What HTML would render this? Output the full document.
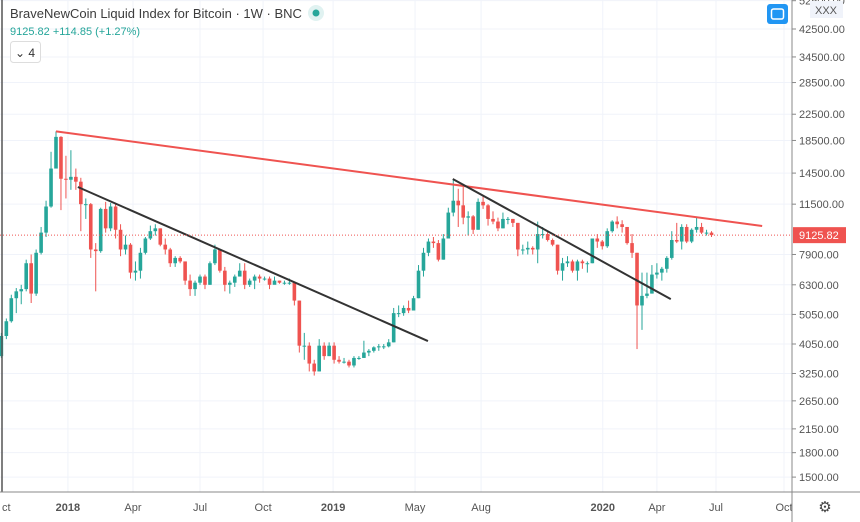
<!DOCTYPE html>
<html><head><meta charset="utf-8"><style>
html,body{margin:0;padding:0;background:#fff;width:860px;height:522px;overflow:hidden;font-family:"Liberation Sans",sans-serif}
svg{position:absolute;left:0;top:0}
</style></head><body>
<svg id="chart" width="860" height="522">
<g id="grid"></g>
<g id="candles"></g>
<g id="lines"></g>
<g id="yaxis"></g>
<g id="xaxis"></g>
<line x1="2" y1="0" x2="2" y2="492" stroke="#555" stroke-width="1.5"/>
<line x1="792" y1="0" x2="792" y2="522" stroke="#888" stroke-width="1"/>
<line x1="0" y1="492" x2="860" y2="492" stroke="#888" stroke-width="1"/>
<text x="10" y="18" font-size="13" fill="#3c3c3c">BraveNewCoin Liquid Index for Bitcoin · 1W · BNC</text>
<circle cx="316" cy="13" r="8" fill="#e0f2f1"/>
<circle cx="316" cy="13" r="3.5" fill="#26a69a"/>
<text x="10" y="35" font-size="11" fill="#26a69a">9125.82 +114.85 (+1.27%)</text>
<rect x="10.5" y="41.5" width="30" height="21" rx="3" fill="#fff" stroke="#ddd"/>
<text x="15" y="57" font-size="12" fill="#333">⌄ 4</text>
<rect x="767" y="4" width="21" height="20" rx="3" fill="#2196f3"/>
<rect x="771.5" y="9" width="12" height="10" rx="2" fill="none" stroke="#fff" stroke-width="1.5"/>
<rect x="810" y="1" width="33" height="17" fill="#f0f3fa"/>
<text x="826" y="14" font-size="11" fill="#555" text-anchor="middle">XXX</text>
<text x="825" y="512" font-size="15" fill="#444" text-anchor="middle">⚙</text>
</svg>
<script>
const openPrice0 = 3700;
const closes=[4300,4800,5700,6000,6100,7400,5900,8000,9300,11300,15000,19000,13900,13800,14100,13600,11500,11500,8200,8100,11100,9600,11300,9500,8200,8500,6900,7000,8000,8900,9400,9600,8500,8200,7400,7700,7500,6500,6100,6400,6700,6300,7400,8200,7000,6300,6400,6700,7000,6300,6500,6700,6600,6600,6300,6500,6400,6400,6400,5600,4000,4000,3500,3300,4000,3700,4000,3600,3550,3550,3450,3650,3650,3800,3850,3950,3980,3980,4100,5100,5100,5300,5200,5700,7000,8000,8700,8600,7600,8900,10800,11800,11400,10400,10500,9500,11700,11400,10300,10100,9600,10300,10300,10000,8200,8200,8300,8200,9200,9200,8800,8500,7000,7400,7500,7000,7500,7400,7400,8900,8700,8400,9400,10100,9900,9700,8600,8000,5400,5800,5900,6800,6900,7100,7700,8800,8700,9700,8700,9500,9700,9300,9300,9125];
const highs=[4400,4900,5850,6150,6300,7600,7900,8200,9700,11800,17000,19800,19100,16500,17200,15000,14000,12000,11600,8600,11200,11700,11600,11500,9900,9100,8600,7500,8300,9000,9800,9900,9600,8900,8300,7800,7800,7500,6800,6500,6800,6800,7500,8500,8200,7200,6500,6800,7400,7400,6600,6800,6800,6700,6700,6700,6500,6500,6600,6400,5600,4400,4100,3600,4200,4100,4100,4100,3700,3650,3600,3700,3700,4150,3900,3980,4050,4050,4200,5300,5400,5400,5600,5800,7300,8300,8900,9000,8800,9200,11200,13800,12900,13100,10900,10600,12000,12300,11500,10900,10400,10800,10450,10300,10000,8500,8700,8400,10100,9700,9400,8900,8500,7700,7800,7600,7600,7600,7500,8900,9200,8800,9600,10200,10500,10200,9700,9200,8000,6900,6900,7300,7400,7200,7800,9400,10000,9900,9900,9600,10400,10000,9500,9400];
const lows=[3650,4200,4750,5100,5450,6000,5500,5800,7900,9000,11200,15000,11000,12000,12800,12800,9400,10300,7700,6000,8000,9300,9400,8900,7800,7900,6600,6500,6600,7900,8800,9100,8400,7900,7200,7200,7400,6300,5800,5800,6300,6100,6300,7300,6900,6000,5900,6200,6700,6100,6200,6100,6400,6500,6100,6400,6350,6300,6300,5400,3800,3600,3300,3200,3300,3600,3700,3500,3500,3500,3400,3400,3600,3650,3700,3800,3850,3900,3950,4100,4950,5000,5100,5200,5700,6700,7800,8300,7500,7600,8900,10500,9700,9900,9100,9200,9500,11100,9800,9900,9400,9600,9900,9700,7800,7900,7900,7900,7400,8900,8700,8400,6800,6500,7200,6900,6500,7100,6900,7400,8300,8200,8300,9300,9600,9300,8500,7700,3900,4500,5700,5900,6600,6500,6900,7600,8600,8200,8600,8600,9300,9200,9100,9000];
const firstWeekIndex=-11;
const priceTicks=[52500,42500,34500,28500,22500,18500,14500,11500,9125.82,7900,6300,5050,4050,3250,2650,2150,1800,1500];
const timeLabels=["ct","2018","Apr","Jul","Oct","2019","May","Aug","2020","Apr","Jul","Oct"];
const timeWeeks=[-12.3,2.4,15.5,29.0,41.7,55.8,72.3,85.6,110.1,121.0,132.9,146.6];
const boldLabels=["2018","2019","2020"];
const redLineStart=[0,19800], redLineEnd=[142.2,9770];
const blackLine1Start=[4.4,13070], blackLine1End=[74.9,4140];
const blackLine2Start=[79.9,13880], blackLine2End=[123.8,5660];
const lastPrice=9125.82;

const NS="http://www.w3.org/2000/svg";
function xOf(w){return 56+w*4.966;}
function yOf(p){return 29+(Math.log(42500)-Math.log(p))*134;}
function mk(tag,attrs,parent){const e=document.createElementNS(NS,tag);for(const k in attrs)e.setAttribute(k,attrs[k]);parent.appendChild(e);return e;}
const grid=document.getElementById('grid'),cg=document.getElementById('candles'),lg=document.getElementById('lines'),ya=document.getElementById('yaxis'),xa=document.getElementById('xaxis');
priceTicks.forEach(p=>{
  if(p===lastPrice)return;
  const y=yOf(p);
  const g=mk('line',{x1:0,x2:792,y1:y,y2:y,stroke:'#f0f3fa','stroke-width':1},grid);
  
  
  const t=mk('line',{x1:792,x2:796,y1:y,y2:y,stroke:'#888'},ya);
  
  
  const tx=mk('text',{x:799,y:y+4,'font-size':11,fill:'#555'},ya);
  tx.textContent=p.toFixed(2);
  
  
});
timeLabels.forEach((l,i)=>{
  const x=xOf(timeWeeks[i]);
  if(i>0){
    const g=mk('line',{x1:x,x2:x,y1:0,y2:492,stroke:'#f0f3fa','stroke-width':1},grid);
    
    
  }
  const t=mk('text',{x:i===0?2:x,y:511,'font-size':11,fill:'#555','text-anchor':i===0?'start':'middle','font-weight':boldLabels.includes(l)?'bold':'normal'},xa);
  t.textContent=l;
  
  
});
let prev=openPrice0;
closes.forEach((c,i)=>{
  const w=firstWeekIndex+i,x=xOf(w),o=prev,up=c>=o,col=up?'#26a69a':'#ef5350';
  const wick=mk('line',{x1:x,x2:x,y1:yOf(highs[i]),y2:yOf(lows[i]),stroke:col,'stroke-width':1},cg);
  
  
  const top=yOf(Math.max(o,c)),bot=yOf(Math.min(o,c));
  const b=mk('rect',{x:x-1.8,y:top,width:3.6,height:Math.max(1,bot-top),fill:col},cg);
  
  
  prev=c;
});
function trend(a,b,col,name){
  const l=mk('line',{x1:xOf(a[0]),y1:yOf(a[1]),x2:xOf(b[0]),y2:yOf(b[1]),stroke:col,'stroke-width':2},lg);
  
  
}
trend(redLineStart,redLineEnd,'#ef5350','red-resistance-line');
trend(blackLine1Start,blackLine1End,'#333','black-trendline-2018');
trend(blackLine2Start,blackLine2End,'#333','black-trendline-2019');
const ly=yOf(lastPrice);
const pl=mk('line',{x1:0,x2:792,y1:ly,y2:ly,stroke:'#ef5350','stroke-width':1,'stroke-dasharray':'1,2'},lg);


const pb=mk('rect',{x:793,y:ly-8,width:53,height:16,fill:'#ef5350'},ya);


const pt=mk('text',{x:799,y:ly+4,'font-size':11,fill:'#fff'},ya);
pt.textContent=lastPrice.toFixed(2);


</script>
</body></html>
